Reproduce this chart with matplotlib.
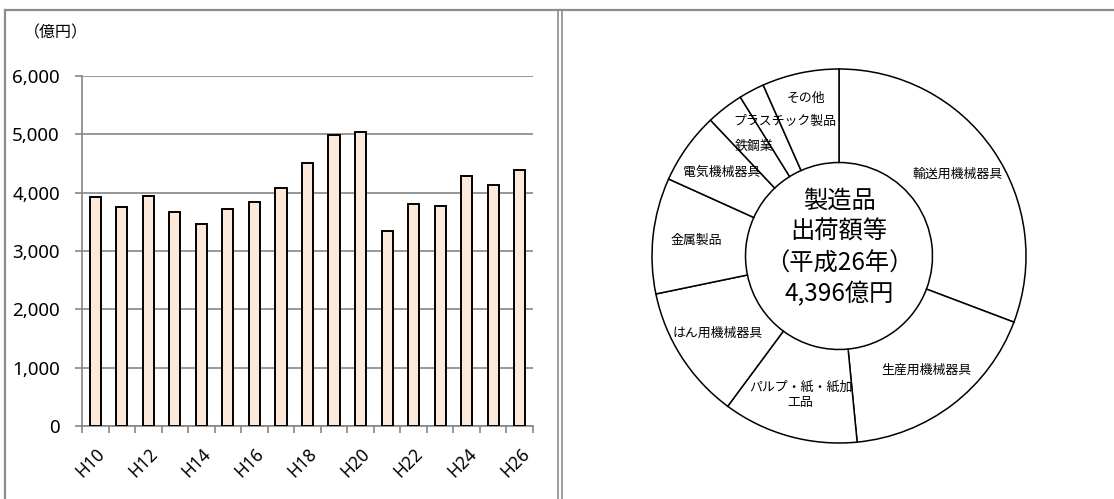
import matplotlib.pyplot as plt
import numpy as np
from matplotlib.lines import Line2D

# 製造品出荷額等の推移（億円）
years = ["H10", "H11", "H12", "H13", "H14", "H15", "H16", "H17", "H18",
         "H19", "H20", "H21", "H22", "H23", "H24", "H25", "H26"]
shipments = [3920, 3754, 3948, 3674, 3468, 3725, 3845, 4085, 4509,
             4983, 5046, 3343, 3811, 3771, 4286, 4126, 4396]

# 平成26年 業種別内訳（億円）
industries = ["輸送用機械器具", "生産用機械器具", "パルプ・紙・紙加\n工品", "はん用機械器具",
              "金属製品", "電気機械器具", "鉄鋼業", "プラスチック製品", "その他"]
industry_values = [1352, 778, 514, 510, 440, 272, 141, 97, 292]

y_ticks = [0, 1000, 2000, 3000, 4000, 5000, 6000]

W, H = 1114, 499
JP = ["Noto Sans CJK JP", "DejaVu Sans"]
GRID = "#868686"
FRAME = "#8c8c8c"
BAR = "#FDE9D9"

plt.rcParams["font.family"] = JP


def px(x0, y0, x1, y1):
    # pixel box (top-left origin) -> figure fraction rect
    return [x0 / W, 1 - y1 / H, (x1 - x0) / W, (y1 - y0) / H]


fig = plt.figure(figsize=(W / 100, H / 100), dpi=100)
fig.patch.set_facecolor("white")

# frame lines
fig.add_artist(Line2D([5 / W, 1], [1 - 10 / H] * 2, color=FRAME, lw=1.6))
fig.add_artist(Line2D([5 / W] * 2, [0, 1 - 10 / H], color=FRAME, lw=1.6))
for xp in (558, 562):
    fig.add_artist(Line2D([xp / W] * 2, [0, 1 - 10 / H], color=FRAME, lw=1.2))

# ---- bar chart
ax = fig.add_axes(px(82, 76, 533, 426))
x = np.arange(len(years))
ax.bar(x, shipments, width=0.42, color=BAR, edgecolor="black", linewidth=1.4, zorder=3)
ax.set_xlim(-0.5, len(years) - 0.5)
ax.set_ylim(0, 6000)
ax.set_yticks(y_ticks)
ax.set_yticklabels([f"{v:,}" for v in y_ticks], family="Noto Sans", fontsize=13.5)
ax.yaxis.grid(True, color=GRID, lw=1.2, zorder=0)
ax.tick_params(axis="y", length=5, width=1.2, color=GRID, pad=11)
ax.set_xticks(np.arange(-0.5, len(years), 1.0))
ax.set_xticklabels([])
ax.tick_params(axis="x", length=5, width=1.2, color=GRID)
for i, lab in enumerate(years):
    if i % 2 == 0:
        ax.annotate(lab, (i, 0), xycoords=("data", "axes fraction"),
                    xytext=(5, -18), textcoords="offset points",
                    rotation=45, ha="right", va="center", rotation_mode="anchor",
                    family="Noto Sans", fontsize=12.5)
for s in ("top", "right"):
    ax.spines[s].set_visible(False)
for s in ("left", "bottom"):
    ax.spines[s].set_color(GRID)
    ax.spines[s].set_linewidth(1.2)
fig.text(24 / W, 1 - 33 / H, "（億円）", fontsize=11.5, va="center", ha="left")

# ---- donut chart
cx, cy, half = 839, 256, 200
ax2 = fig.add_axes(px(cx - half, cy - half, cx + half, cy + half))
wedges, _ = ax2.pie(industry_values, startangle=90, counterclock=False,
                    wedgeprops=dict(width=0.5, facecolor="white",
                                    edgecolor="black", linewidth=1.1))
lim = half / 187
ax2.set_xlim(-lim, lim)
ax2.set_ylim(-lim, lim)
ax2.set_aspect("equal")
ax2.axis("off")

# label radius / angle nudge for the narrow slices
nudge = {"その他": (0.86, 0), "プラスチック製品": (0.775, -6), "鉄鋼業": (0.74, 0)}
for w, lab in zip(wedges, industries):
    r, da = nudge.get(lab, (0.77, 0))
    mid = np.deg2rad((w.theta1 + w.theta2) / 2 + da)
    ax2.text(r * np.cos(mid), r * np.sin(mid), lab, ha="center", va="center",
             fontsize=9.3, linespacing=1.3)

ax2.text(0, 0.045, "製造品\n出荷額等\n（平成26年）\n" + f"{sum(industry_values):,}億円",
         ha="center", va="center", fontsize=17.5, linespacing=1.27)

fig.savefig("out.png", dpi=100, facecolor="white")
